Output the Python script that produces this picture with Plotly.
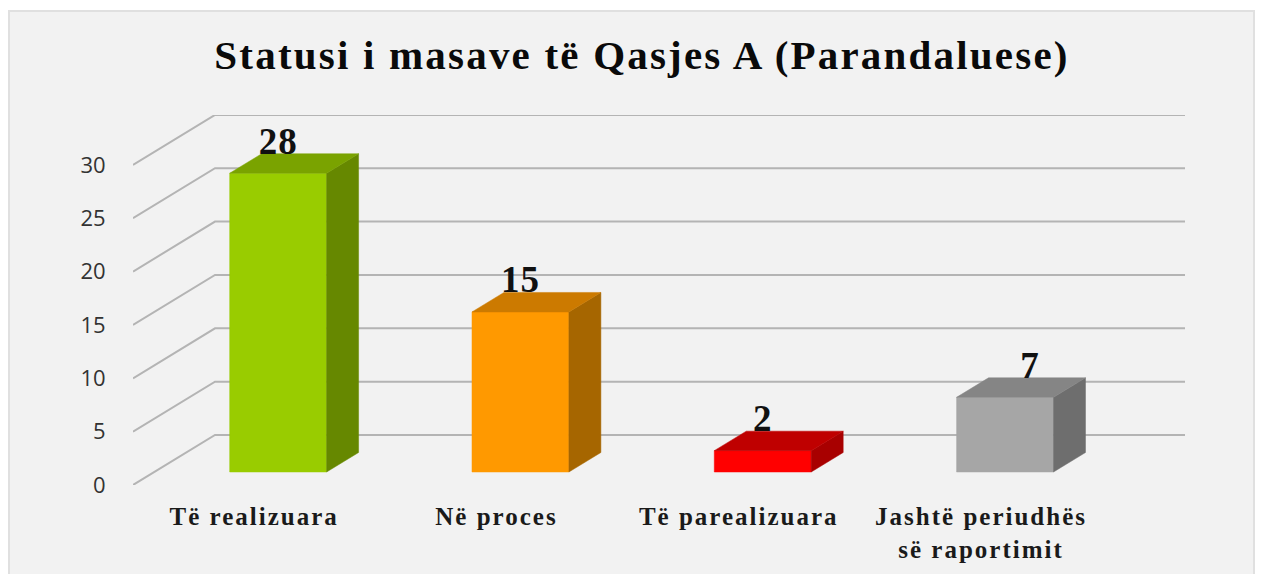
import plotly.graph_objects as go

title = "Statusi i masave të Qasjes A (Parandaluese)"
categories = ["Të realizuara", "Në proces", "Të parealizuara", "Jashtë periudhës<br>së raportimit"]
values = [28, 15, 2, 7]
front_colors = ["#99CC00", "#FF9900", "#FF0000", "#A6A6A6"]
top_colors = ["#7AA300", "#CC7A00", "#BF0000", "#858585"]
side_colors = ["#668800", "#A66600", "#A80000", "#6E6E6E"]
y_ticks = [0, 5, 10, 15, 20, 25, 30]
label_shift_px = [0, 0, 0, 25]

W, H = 1266, 574
OFF = 8                 # default page margin around the figure
L, R, T, B = 133, 1185, 115, 485
PX_X = 242.3            # pixels per category
PX_Y = 10.67            # pixels per value unit
DX = 82 / PX_X          # full floor depth, in x units
DY = 50 / PX_Y          # full floor depth, in y units
D0, D1 = 0.26, 0.65     # bar front / back depth fractions (y)
SHIFT_X = 24 / PX_X     # bar centre offset from category centre
HALF = 0.2              # half bar width

x_max = (R - L) / PX_X
y_max = (B - T) / PX_Y
centers = [i + 0.5 for i in range(len(categories))]

fig = go.Figure()
GRID = "#B4B4B4"

for t in y_ticks:
    fig.add_trace(go.Scatter(
        x=[0, DX, x_max], y=[t, t + DY, t + DY], mode="lines",
        line=dict(color=GRID, width=2), hoverinfo="skip", showlegend=False))

def poly(xs, ys, color):
    fig.add_trace(go.Scatter(
        x=xs + xs[:1], y=ys + ys[:1], mode="lines", fill="toself", fillcolor=color,
        line=dict(color=color, width=0.5), hoverinfo="skip", showlegend=False))

for c, v, fc, tc, sc in zip(centers, values, front_colors, top_colors, side_colors):
    x0, x1 = c - HALF + SHIFT_X, c + HALF + SHIFT_X
    y0, y1 = D0 * DY, v + D0 * DY
    ddx, ddy = (D1 - D0) * DX, (D1 - D0) * DY
    poly([x0, x1, x1, x0], [y0, y0, y1, y1], fc)
    poly([x1, x1 + ddx, x1 + ddx, x1], [y0, y0 + ddy, y1 + ddy, y1], sc)
    poly([x0, x1, x1 + ddx, x0 + ddx], [y1, y1, y1 + ddy, y1 + ddy], tc)

fig.add_trace(go.Scatter(
    x=[c + SHIFT_X + s / PX_X for c, s in zip(centers, label_shift_px)],
    y=[v + D0 * DY + 2.7 for v in values],
    mode="text", text=[str(v) for v in values], textposition="middle center",
    textfont=dict(family="Liberation Serif", size=37, color="#111111", weight="bold"),
    hoverinfo="skip", showlegend=False))

fig.update_layout(
    width=W - OFF, height=H - OFF, autosize=False,
    margin=dict(l=L - OFF, r=W - R, t=T - OFF, b=H - B),
    paper_bgcolor="white", plot_bgcolor="rgba(0,0,0,0)", showlegend=False,
    xaxis=dict(range=[0, x_max], tickmode="array", tickvals=centers, ticktext=categories,
               showgrid=False, zeroline=False, showline=False,
               ticks="outside", ticklen=9, tickcolor="rgba(0,0,0,0)",
               tickfont=dict(family="Liberation Serif", size=25, color="#1A1A1A", weight="bold")),
    yaxis=dict(range=[0, y_max], tickmode="array", tickvals=y_ticks,
               showgrid=False, zeroline=False, showline=False,
               ticks="outside", ticklen=22, tickcolor="rgba(0,0,0,0)",
               tickfont=dict(family="Open Sans", size=22, color="#333333")),
    title=dict(text=title, x=(642 - OFF) / (W - OFF), xanchor="center", xref="container",
               yref="container", y=1 - (55 - OFF) / (H - OFF), yanchor="middle",
               font=dict(family="Liberation Serif", size=41, color="#0A0A0A", weight="bold")),
    shapes=[dict(type="rect", xref="paper", yref="paper", layer="below",
                 x0=(9 - L) / (R - L), x1=(1254 - L) / (R - L),
                 y0=(B - 590) / (B - T), y1=(B - 11) / (B - T),
                 fillcolor="#F2F2F2", line=dict(color="#E0E0E0", width=2))],
)
css = (".gtitle{letter-spacing:2.2px}"
       ".xtick text{letter-spacing:2px}"
       ".textpoint text{letter-spacing:1px}")
post = ("var s=document.createElement('style');s.textContent='%s';"
        "document.head.appendChild(s);" % css)
fig.write_html("out.html", post_script=post)
